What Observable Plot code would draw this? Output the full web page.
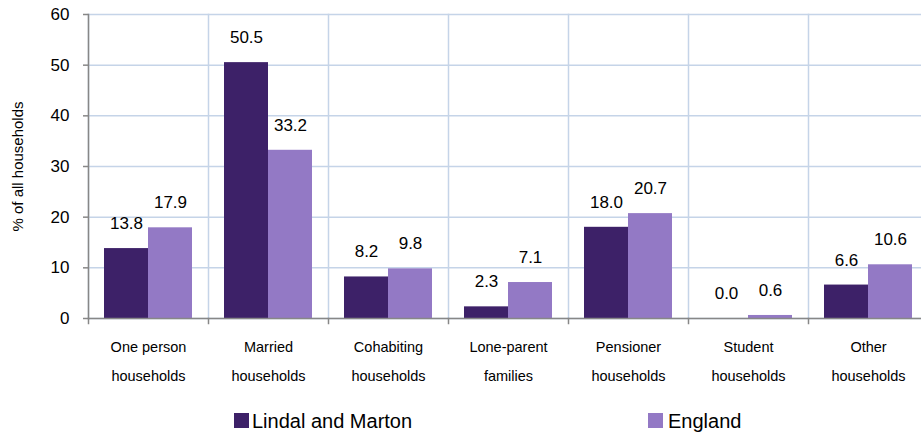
<!DOCTYPE html>
<html>
<head>
<meta charset="utf-8">
<script src="https://cdn.jsdelivr.net/npm/d3@7"></script>
<script src="https://cdn.jsdelivr.net/npm/@observablehq/plot@0.6"></script>
<style>
  html, body { margin: 0; padding: 0; background: #fff; }
  #wrap { position: relative; width: 921px; height: 434px; font-family: "Liberation Sans", Arial, sans-serif; }
  .lg { position: absolute; font-size: 20px; color: #000; line-height: 1; }
  .sw { position: absolute; width: 15px; height: 15px; }
</style>
</head>
<body>
<div id="wrap"></div>
<script>
const categories = ["One person\nhouseholds", "Married\nhouseholds", "Cohabiting\nhouseholds", "Lone-parent\nfamilies", "Pensioner\nhouseholds", "Student\nhouseholds", "Other\nhouseholds"];
const series = ["Lindal and Marton", "England"];
const lindal = [13.8, 50.5, 8.2, 2.3, 18.0, 0.0, 6.6];
const england = [17.9, 33.2, 9.8, 7.1, 20.7, 0.6, 10.6];
const yTicks = [0, 10, 20, 30, 40, 50, 60];
const colors = ["#3D2168", "#9379C5"];

const data = [];
categories.forEach((c, i) => {
  data.push({category: c, series: series[0], value: lindal[i]});
  data.push({category: c, series: series[1], value: england[i]});
});

const gridColor = "#C5D4E8";
const axisGrey = "#878787";

const chart = Plot.plot({
  width: 921,
  height: 395,
  marginLeft: 88,
  marginRight: -7,
  marginTop: 14,
  marginBottom: 77,
  style: {fontFamily: "'Liberation Sans', Arial, sans-serif", fontSize: "17px", color: "#000", background: "#fff"},
  fx: {domain: categories, padding: 0, axis: null, label: null},
  x: {domain: series, paddingInner: 0, paddingOuter: 0.35, axis: null},
  y: {domain: [0, 60], axis: null},
  color: {domain: series, range: colors},
  marks: [
    Plot.gridY(yTicks, {stroke: gridColor, strokeOpacity: 1, strokeWidth: 1.5}),
    Plot.frame({anchor: "left", stroke: gridColor, strokeOpacity: 1, strokeWidth: 1.5}),
    Plot.barY(data, {fx: "category", x: "series", y: "value", fill: "series"}),
    Plot.ruleY([0], {stroke: axisGrey, strokeWidth: 1.5}),
    Plot.frame({anchor: "left", stroke: axisGrey, strokeWidth: 1.5, insetTop: 304, insetBottom: -5}),
    Plot.frame({anchor: "left", stroke: axisGrey, strokeWidth: 1.5, fx: () => categories[0]}),
    Plot.axisY(yTicks, {tickSize: 5, tickPadding: 14, stroke: axisGrey, strokeWidth: 1.5, fill: "#000", fontSize: 17, label: null}),
    Plot.text(data, {fx: "category", x: "series", y: "value", text: d => d.value.toFixed(1), dy: -25, fontSize: 17, fill: "#000"}),
    Plot.text(categories, {fx: d => d, text: d => d, frameAnchor: "bottom", lineAnchor: "middle", textAnchor: "middle", dy: 39, lineHeight: 1.95, fontSize: 14.5, fill: "#000"}),
    Plot.text(["% of all households"], {fx: () => categories[0], text: d => d, frameAnchor: "left", textAnchor: "middle", lineAnchor: "middle", rotate: -90, dx: -70, fontSize: 15, fill: "#000"})
  ]
});

const wrap = document.getElementById("wrap");
wrap.appendChild(chart);

const legendItems = [
  {label: series[0], color: colors[0], sx: 234, tx: 252},
  {label: series[1], color: colors[1], sx: 648, tx: 668}
];
legendItems.forEach(it => {
  const sw = document.createElement("div");
  sw.className = "sw";
  sw.style.left = it.sx + "px";
  sw.style.top = "413px";
  sw.style.background = it.color;
  wrap.appendChild(sw);
  const t = document.createElement("div");
  t.className = "lg";
  t.style.left = it.tx + "px";
  t.style.top = "411px";
  t.textContent = it.label;
  wrap.appendChild(t);
});
</script>
</body>
</html>
